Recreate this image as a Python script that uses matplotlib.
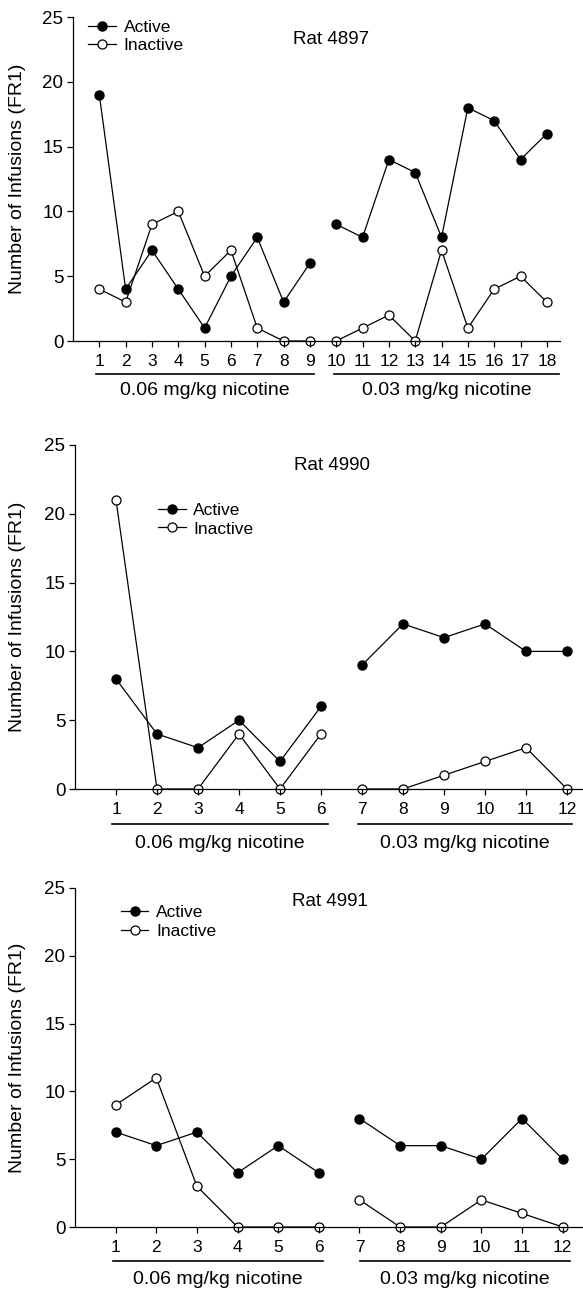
import matplotlib
matplotlib.use("Agg")
import matplotlib.pyplot as plt
import numpy as np

plt.rcParams['font.family'] = ['Liberation Sans', 'DejaVu Sans']

# ---- Data ----
r1_days_a = [1, 2, 3, 4, 5, 6, 7, 8, 9]
r1_days_b = [10, 11, 12, 13, 14, 15, 16, 17, 18]
r1_active_a = [19, 4, 7, 4, 1, 5, 8, 3, 6]
r1_active_b = [9, 8, 14, 13, 8, 18, 17, 14, 16]
r1_inactive_a = [4, 3, 9, 10, 5, 7, 1, 0, 0]
r1_inactive_b = [0, 1, 2, 0, 7, 1, 4, 5, 3]

r2_days_a = [1, 2, 3, 4, 5, 6]
r2_days_b = [7, 8, 9, 10, 11, 12]
r2_active_a = [8, 4, 3, 5, 2, 6]
r2_active_b = [9, 12, 11, 12, 10, 10]
r2_inactive_a = [21, 0, 0, 4, 0, 4]
r2_inactive_b = [0, 0, 1, 2, 3, 0]

r3_days_a = [1, 2, 3, 4, 5, 6]
r3_days_b = [7, 8, 9, 10, 11, 12]
r3_active_a = [7, 6, 7, 4, 6, 4]
r3_active_b = [8, 6, 6, 5, 8, 5]
r3_inactive_a = [9, 11, 3, 0, 0, 0]
r3_inactive_b = [2, 0, 0, 2, 1, 0]

titles = ["Rat 4897", "Rat 4990", "Rat 4991"]
group_labels = ["0.06 mg/kg nicotine", "0.03 mg/kg nicotine"]
yticks = [0, 5, 10, 15, 20, 25]

W, H = 583, 1289
fig = plt.figure(figsize=(W / 100, H / 100), dpi=100)

def px_axes(left, top, right, bottom):
    return fig.add_axes([left / W, 1 - bottom / H, (right - left) / W, (bottom - top) / H])

panels = [
    dict(box=(73, 17, 560, 341), xlim=(0, 18.5), da=r1_days_a, db=r1_days_b,
         aa=r1_active_a, ab=r1_active_b, ia=r1_inactive_a, ib=r1_inactive_b,
         ul=[(0.88, 9.16), (9.93, 18.47)], leg=(0.031, 0.992), title=(0.452, 0.932),
         ul_y=-0.102, gl_y=-0.152),
    dict(box=(75, 445, 583, 789), xlim=(0, 12.39), da=r2_days_a, db=r2_days_b,
         aa=r2_active_a, ab=r2_active_b, ia=r2_inactive_a, ib=r2_inactive_b,
         ul=[(0.9, 6.17), (6.9, 12.12)], leg=(0.163, 0.832), title=(0.431, 0.939),
         ul_y=-0.102, gl_y=-0.157),
    dict(box=(75, 888, 583, 1227), xlim=(0, 12.5), da=r3_days_a, db=r3_days_b,
         aa=r3_active_a, ab=r3_active_b, ia=r3_inactive_a, ib=r3_inactive_b,
         ul=[(0.94, 6.1), (7.02, 12.17)], leg=(0.09, 0.95), title=(0.427, 0.959),
         ul_y=-0.1, gl_y=-0.156),
]

ms = 6.5
lw = 0.9
for i, p in enumerate(panels):
    ax = px_axes(*p['box'])
    ax.set_axisbelow(False)
    act_style = dict(color='black', marker='o', markersize=ms, markerfacecolor='black',
                     markeredgecolor='black', linewidth=lw, clip_on=False, zorder=2)
    ina_style = dict(color='black', marker='o', markersize=ms, markerfacecolor='white',
                     markeredgecolor='black', markeredgewidth=0.9, linewidth=lw,
                     clip_on=False, zorder=2)
    h1, = ax.plot(p['da'], p['aa'], label='Active', **act_style)
    ax.plot(p['db'], p['ab'], **act_style)
    h2, = ax.plot(p['da'], p['ia'], label='Inactive', **ina_style)
    ax.plot(p['db'], p['ib'], **ina_style)

    ax.set_xlim(*p['xlim'])
    ax.set_ylim(0, 25)
    ax.set_yticks(yticks)
    ax.set_xticks(list(p['da']) + list(p['db']))
    for s in ['top', 'right']:
        ax.spines[s].set_visible(False)
    for s in ['left', 'bottom']:
        ax.spines[s].set_linewidth(0.9)
    ax.tick_params(axis='both', direction='out', length=4, width=0.9, labelsize=12.5)
    ax.tick_params(axis='x', pad=5)
    ax.tick_params(axis='y', labelsize=13.5, pad=3)

    trans = ax.get_xaxis_transform()
    for (x0, x1), lab in zip(p['ul'], group_labels):
        ax.plot([x0, x1], [p['ul_y'], p['ul_y']], color='black', lw=1.2,
                transform=trans, clip_on=False)
        ax.text((x0 + x1) / 2, p['gl_y'], lab, transform=trans, ha='center',
                va='center', fontsize=14)

    ax.text(p['title'][0], p['title'][1], titles[i], transform=ax.transAxes,
            ha='left', va='center', fontsize=13.5)

    ax.legend(handles=[h1, h2], loc='upper left', bbox_to_anchor=p['leg'],
              frameon=False, fontsize=12.5, handlelength=1.6, handletextpad=0.45,
              labelspacing=0.2, borderpad=0, borderaxespad=0)

    bx = p['box']
    fig.text(18 / W, 1 - ((bx[1] + bx[3]) / 2) / H, "Number of Infusions (FR1)",
             rotation=90, ha='center', va='center', fontsize=14)

fig.savefig("out.png", dpi=100)
